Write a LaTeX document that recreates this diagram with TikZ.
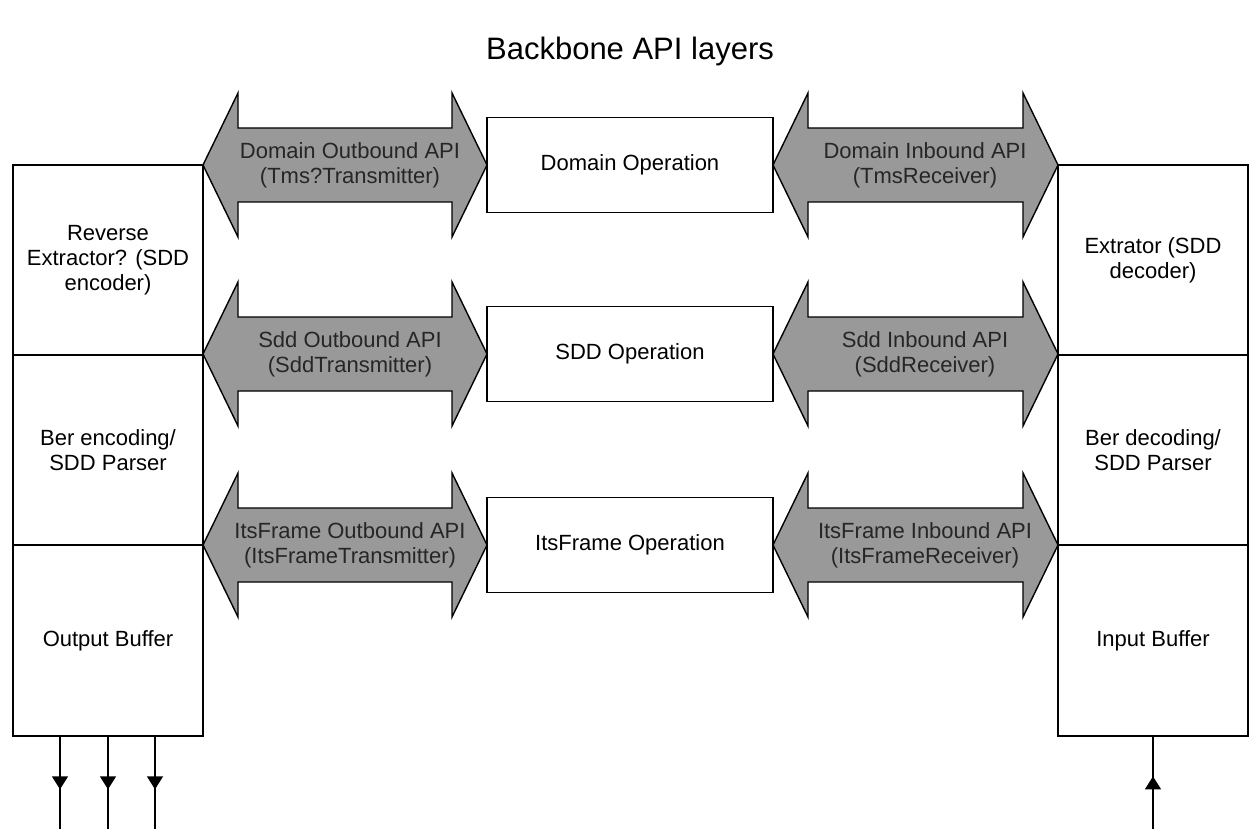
\documentclass[tikz,border=0pt]{standalone}
\usepackage{fontspec}
\setmainfont{Liberation Sans}
\usetikzlibrary{arrows.meta,decorations.markings}
\definecolor{arrowgray}{RGB}{153,153,153}
\tikzset{
  txt/.style={font=\fontsize{22}{25}\selectfont, align=center},
  box/.style={txt, draw, line width=1.4pt, fill=white, inner sep=0pt},
  sidebox/.style={box, minimum width=190pt, minimum height=190pt},
  opbox/.style={box, minimum width=286pt, minimum height=95pt},
  apiarrow/.style={draw, line width=1.4pt, fill=arrowgray, line join=miter},
  apilabel/.style={txt, text=black!85, inner sep=0pt},
  flowline/.style={line width=1.4pt, postaction={decorate},
    decoration={markings, mark=at position 0.57 with {\arrow{Triangle[length=13pt,width=16pt]}}}},
}
\newcommand\apishape[3]{% left tip x, right tip x, centre y
  \draw[apiarrow] (#1,#3) -- ({#1+35},{#3-72}) -- ({#1+35},{#3-37}) -- ({#2-35},{#3-37})
    -- ({#2-35},{#3-72}) -- (#2,#3) -- ({#2-35},{#3+72}) -- ({#2-35},{#3+37})
    -- ({#1+35},{#3+37}) -- ({#1+35},{#3+72}) -- cycle;}
\begin{document}
\begin{tikzpicture}[x=1pt,y=-1pt]
\useasboundingbox (0,0) rectangle (1253,829);
\node[font=\fontsize{31}{36}\selectfont] (title) at (630,51) {Backbone API layers};

% double arrows
\apishape{203}{487}{165}
\apishape{773}{1058}{165}
\apishape{203}{487}{354}
\apishape{773}{1058}{354}
\apishape{203}{487}{545}
\apishape{773}{1058}{545}

\node[apilabel] (a1) at (350,165) {Domain Outbound API\\(Tms?Transmitter)};
\node[apilabel] (b1) at (925,165) {Domain Inbound API\\(TmsReceiver)};
\node[apilabel] (a2) at (350,354) {Sdd Outbound API\\(SddTransmitter)};
\node[apilabel] (b2) at (925,354) {Sdd Inbound API\\(SddReceiver)};
\node[apilabel] (a3) at (350,545) {ItsFrame Outbound API\\(ItsFrameTransmitter)};
\node[apilabel] (b3) at (925,545) {ItsFrame Inbound API\\(ItsFrameReceiver)};

% side columns
\node[sidebox] (L1) at (108,260) {Reverse\\Extractor? (SDD\\encoder)};
\node[sidebox] (L2) at (108,450) {Ber encoding/\\SDD Parser};
\node[sidebox, minimum height=191pt] (L3) at (108,640.5) {Output Buffer};
\node[sidebox] (R1) at (1153,260) {Extrator (SDD\\decoder)};
\node[sidebox] (R2) at (1153,450) {Ber decoding/\\SDD Parser};
\node[sidebox, minimum height=191pt] (R3) at (1153,640.5) {Input Buffer};

% operation boxes
\node[opbox] (M1) at (630,165) {Domain Operation};
\node[opbox] (M2) at (630,354) {SDD Operation};
\node[opbox] (M3) at (630,545) {ItsFrame Operation};

% bottom arrows
\coordinate (o1) at (60,829);
\coordinate (o2) at (108,829);
\coordinate (o3) at (155,829);
\coordinate (i1) at (1153,829);
\draw[flowline] (o1 |- L3.south) -- (o1);
\draw[flowline] (o2 |- L3.south) -- (o2);
\draw[flowline] (o3 |- L3.south) -- (o3);
\draw[flowline] (i1) -- (i1 |- R3.south);
\end{tikzpicture}
\end{document}
